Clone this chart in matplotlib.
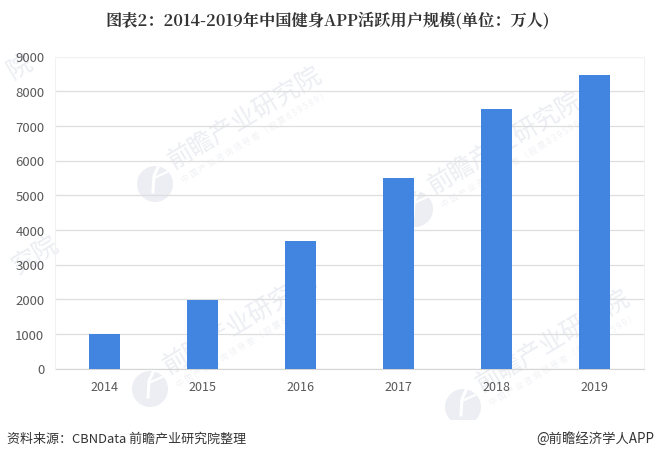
import matplotlib
matplotlib.use('Agg')
import matplotlib.pyplot as plt
from matplotlib.patches import Circle, Rectangle

years = ['2014', '2015', '2016', '2017', '2018', '2019']
users = [1000, 1980, 3680, 5500, 7480, 8480]
yticks = [0, 1000, 2000, 3000, 4000, 5000, 6000, 7000, 8000, 9000]
title = '图表2：2014-2019年中国健身APP活跃用户规模(单位：万人)'
source = '资料来源：CBNData 前瞻产业研究院整理'
credit = '@前瞻经济学人APP'
watermark = '前瞻产业研究院'
watermark_sub = '中国产业咨询领导者（股票839599）'

W, H = 655, 460
WM = '#eceef3'
plt.rcParams['font.family'] = ['Noto Sans CJK SC', 'DejaVu Sans']
fig = plt.figure(figsize=(W / 100, H / 100), dpi=100, facecolor='white')
ax = fig.add_axes([55.5 / W, 1 - 369.5 / H, 588 / W, 312 / H], facecolor='none', zorder=2)

x = list(range(len(years)))
ax.bar(x, users, width=0.32, color='#4285e0', zorder=3)
ax.set_xlim(-0.5, 5.5)
ax.set_ylim(0, 9000)
ax.set_xticks(x, years)
ax.set_yticks(yticks)
ax.grid(axis='y', color='#dedede', lw=0.9, zorder=1)
ax.get_ygridlines()[-1].set_color('#f2f2f2')
ax.tick_params(length=0, labelsize=9, labelcolor='#595959')
ax.tick_params(axis='x', pad=8)
ax.tick_params(axis='y', pad=8)
for t in ax.get_yticklabels():
    t.set_fontsize(9.5)
for s in ['top', 'left', 'right']:
    ax.spines[s].set_color('#f2f2f2')
    ax.spines[s].set_linewidth(0.8)
ax.spines['bottom'].set_color('#d5d5d5')

# watermarks, placed in figure pixels
bg = fig.add_axes([0, 0, 1, 1], zorder=1)
bg.set_xlim(0, W); bg.set_ylim(H, 0); bg.axis('off')
ANGLE = 31
for cx, cy in [(155, 185), (415, 210), (150, 390), (463, 408)]:
    bg.add_patch(Circle((cx, cy), 18, color=WM, lw=0))
    bg.plot([cx + 4, cx - 1, cx - 2], [cy - 19, cy - 8, cy + 8], color='white', lw=2.2)
    bg.plot([cx - 1, cx + 12], [cy - 6, cy - 12], color='white', lw=1.6)
    bg.text(cx + 90, cy - 67, watermark, fontsize=18, rotation=ANGLE, color=WM,
            ha='center', va='center', rotation_mode='anchor')
    bg.text(cx + 100, cy - 48, ' '.join(watermark_sub), fontsize=6, rotation=ANGLE, color='#f1f2f5',
            ha='center', va='center', rotation_mode='anchor')
bg.text(20, 67, watermark[-1], fontsize=18, rotation=ANGLE, color=WM,
        ha='center', va='center', rotation_mode='anchor')
bg.text(35, 255, watermark[-2:], fontsize=18, rotation=ANGLE, color=WM,
        ha='center', va='center', rotation_mode='anchor')
bg.add_patch(Rectangle((0, 421), W, H - 421, color='white', lw=0, zorder=5))

fig.text(327.5 / W, 1 - 21 / H, title, ha='center', va='center', fontsize=11.7, fontweight='bold',
         color='#333333', family=['Noto Serif CJK SC', 'Noto Sans CJK SC', 'DejaVu Sans'], zorder=6)
fig.text(7 / W, 1 - 439 / H, source, ha='left', va='center', fontsize=9.35, color='#333333', zorder=6)
fig.text(654 / W, 1 - 439 / H, credit, ha='right', va='center', fontsize=9.6, color='#333333', zorder=6)
fig.savefig('out.png', dpi=100)
